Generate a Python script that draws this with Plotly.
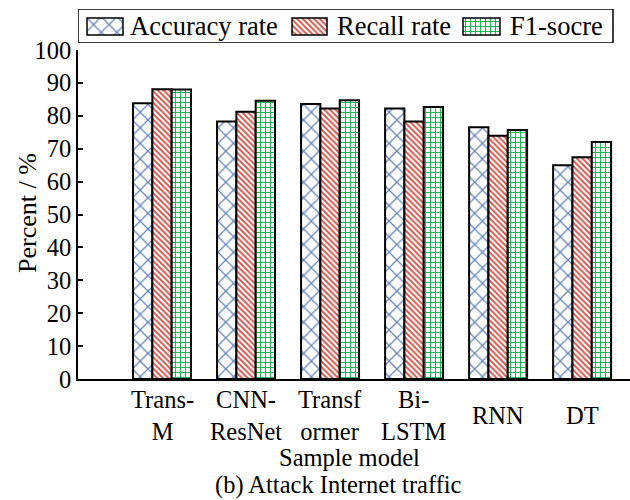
import plotly.graph_objects as go

models = ["Trans-M", "CNN-ResNet", "Transformer", "Bi-LSTM", "RNN", "DT"]
model_labels = ["Trans-<br>M", "CNN-<br>ResNet", "Transf<br>ormer", "Bi-<br>LSTM", "RNN", "DT"]
accuracy = [83.8, 78.3, 83.6, 82.2, 76.5, 65.0]
recall = [88.1, 81.2, 82.2, 78.3, 73.9, 67.4]
f1_score = [88.0, 84.6, 84.7, 82.7, 75.7, 72.0]
series_names = ["Accuracy rate", "Recall rate", "F1-socre"]
y_ticks = [0, 10, 20, 30, 40, 50, 60, 70, 80, 90, 100]

FONT = "Liberation Serif"

# fill styles: pattern shape, line colour, tile size, line thickness
styles = [
    ("x", "#6585b8", 11, 0.22),
    ("\\", "#cf5b52", 4, 0.5),
    ("+", "#12b050", 5, 0.34),
]


def pattern(shape, color, size, solidity):
    return dict(shape=shape, fgcolor=color, bgcolor="white", fgopacity=1,
                size=size, solidity=solidity, fillmode="overlay")


fig = go.Figure()
for name, vals, st in zip(series_names, [accuracy, recall, f1_score], styles):
    fig.add_trace(go.Bar(
        name=name, x=models, y=vals, showlegend=False,
        marker=dict(color="white", line=dict(color="black", width=2),
                    pattern=pattern(*st)),
    ))

# ---- legend strip (own small subplot above the chart, units are pixels) ----
key_left = [87, 292, 463]      # swatch left edges
key_width = [36, 35, 37]
text_left = [128, 335, 508]
fig.add_trace(go.Bar(
    orientation="h", xaxis="x2", yaxis="y2", showlegend=False, hoverinfo="skip",
    y=[16.5, 16.5, 16.5], x=key_width, base=key_left, width=17,
    marker=dict(
        color="white", line=dict(color="black", width=1.5),
        pattern=dict(shape=[s[0] for s in styles], fgcolor=[s[1] for s in styles],
                     size=[s[2] for s in styles], solidity=[s[3] for s in styles],
                     bgcolor="white", fgopacity=1, fillmode="overlay"),
    ),
))

H_PLOT = 379.0          # pixel height of the drawing area (margin t=0)
main_top = (H_PLOT - 50) / H_PLOT
leg_bot = (H_PLOT - 43) / H_PLOT
leg_top = (H_PLOT - 9) / H_PLOT


def py(pix):
    """pixel row -> paper y"""
    return (H_PLOT - pix) / H_PLOT


def px(pix):
    """pixel column -> paper x"""
    return (pix - 78) / 552.0


annotations = []
for name, tx in zip(series_names, text_left):
    annotations.append(dict(text=name, xref="x2", yref="y2", x=tx, y=17,
                            xanchor="left", yanchor="middle", showarrow=False,
                            font=dict(family=FONT, size=26.5)))
for cat, lab in zip(models, model_labels):
    annotations.append(dict(text=lab, xref="x", yref="paper", x=cat, y=py(415),
                            xanchor="center", yanchor="middle", valign="middle",
                            showarrow=False, font=dict(family=FONT, size=24.5)))
annotations.append(dict(text="Percent / %", xref="paper", yref="paper",
                        x=px(27), y=py(213), xanchor="center", yanchor="middle",
                        textangle=-90, showarrow=False, font=dict(family=FONT, size=26)))
annotations.append(dict(text="Sample model", xref="paper", yref="paper",
                        x=px(349), y=py(457), xanchor="center", yanchor="middle",
                        showarrow=False, font=dict(family=FONT, size=24.5)))
annotations.append(dict(text="(b) Attack Internet traffic", xref="paper", yref="paper",
                        x=px(338), y=py(485), xanchor="center", yanchor="middle",
                        showarrow=False, font=dict(family=FONT, size=24.5)))

fig.update_layout(
    template="none",
    width=630, height=500,
    margin=dict(l=78, r=0, t=0, b=121, autoexpand=False),
    paper_bgcolor="white", plot_bgcolor="white",
    font=dict(family=FONT, size=24, color="black"),
    barmode="group", bargap=0.31, bargroupgap=0,
    showlegend=False,
    xaxis=dict(
        range=[-1.0, 5.57], domain=[0, 1], automargin=False,
        showline=True, linecolor="black", linewidth=1.8,
        ticks="", showticklabels=False, showgrid=False, zeroline=False,
    ),
    yaxis=dict(
        range=[0, 100], domain=[0, main_top], automargin=False,
        tickvals=y_ticks,
        showline=True, linecolor="black", linewidth=1.8,
        ticks="inside", ticklen=5, tickwidth=1.5, tickcolor="black",
        showgrid=False, zeroline=False,
        tickfont=dict(family=FONT, size=24.5),
    ),
    xaxis2=dict(domain=[0, 1], range=[78, 630], anchor="y2", visible=False,
                fixedrange=True, automargin=False),
    yaxis2=dict(domain=[leg_bot, leg_top], range=[0, 34], anchor="x2", visible=False,
                fixedrange=True, automargin=False),
    shapes=[dict(type="rect", xref="x2", yref="y2", x0=78, x1=613, y0=0, y1=34,
                 line=dict(color="black", width=1.5), fillcolor="rgba(0,0,0,0)")],
    annotations=annotations,
)

fig.write_html("out.html")
